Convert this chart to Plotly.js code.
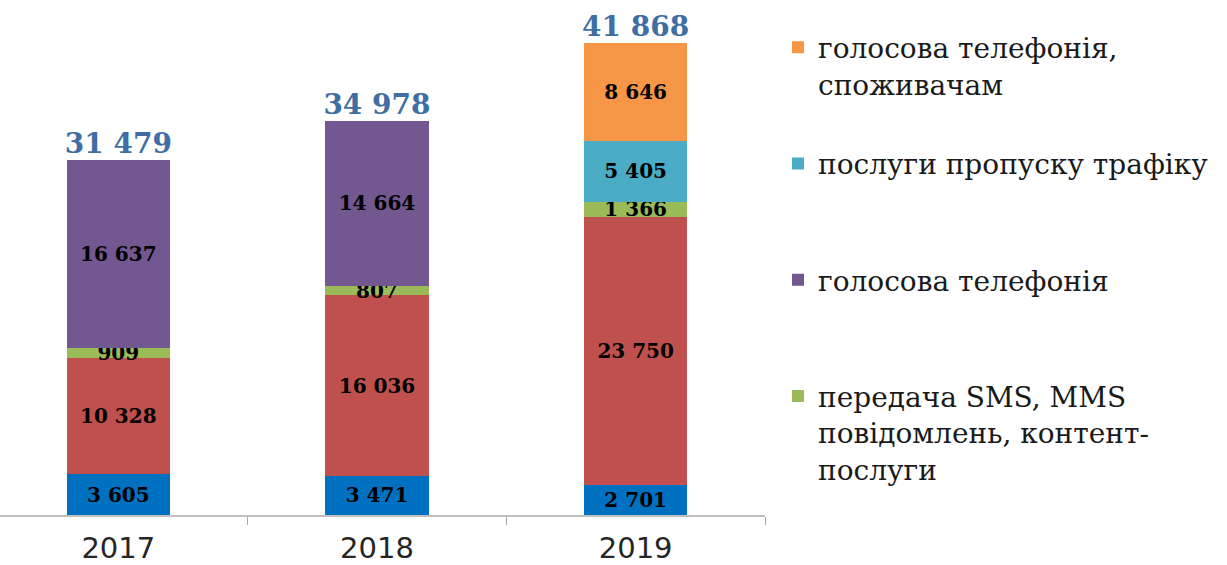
<!DOCTYPE html>
<html>
<head>
<meta charset="utf-8">
<script src="https://cdn.plot.ly/plotly-3.0.1.min.js"></script>
<style>
  html, body { margin: 0; padding: 0; background: #fff; }
  #chart { width: 1227px; height: 565px; }
</style>
</head>
<body>
<div id="chart"></div>
<script>
// ---- data ----
var years = ['2017', '2018', '2019'];
var blueValues   = [3605, 3471, 2701];
var redValues    = [10328, 16036, 23750];
var greenValues  = [909, 807, 1366];
var purpleValues = [16637, 14664, null];
var cyanValues   = [null, null, 5405];
var orangeValues = [null, null, 8646];
var totals       = [31479, 34978, 41868];

var nameGreen  = 'передача SMS, MMS<br>повідомлень, контент-<br>послуги';
var namePurple = 'голосова телефонія<br>\u00a0<br>\u00a0';
var nameCyan   = 'послуги пропуску трафіку<br>\u00a0<br>\u00a0';
var nameOrange = 'голосова телефонія,<br>споживачам<br>\u00a0';

function fmt(v) {
  if (v === null || v === undefined) return '';
  return String(v).replace(/\B(?=(\d{3})+(?!\d))/g, ' ');
}

var labelFont = { family: 'DejaVu Serif', size: 20, color: '#000000', weight: 'bold' };

function barTrace(vals, name, color, showLegend, group, rank) {
  return {
    type: 'bar',
    x: years,
    y: vals,
    name: name,
    legendgroup: group,
    legendrank: rank,
    marker: { color: color, line: { width: 0 } },
    text: vals.map(fmt),
    textposition: 'inside',
    insidetextanchor: 'middle',
    textangle: 0,
    constraintext: 'none',
    textfont: labelFont,
    width: 0.4,
    showlegend: showLegend,
    hoverinfo: 'skip'
  };
}

var traces = [
  barTrace(blueValues,   'послуги доступу до Інтернету', '#0070C0', false, 'b', 6),
  barTrace(redValues,    'мобільний Інтернет',           '#C0504D', false, 'r', 5),
  barTrace(greenValues,  nameGreen,  '#9BBB59', true, 'g', 4),
  barTrace(purpleValues, namePurple, '#725790', true, 'p', 3),
  barTrace(cyanValues,   nameCyan,   '#4BACC6', true, 'c', 2),
  barTrace(orangeValues, nameOrange, '#F79646', true, 'o', 1),
  {
    type: 'scatter',
    mode: 'text',
    x: years,
    y: totals,
    text: totals.map(fmt),
    textposition: 'top center',
    textfont: { family: 'DejaVu Serif', size: 28, color: '#3E6EA3', weight: 'bold' },
    cliponaxis: false,
    showlegend: false,
    hoverinfo: 'skip'
  }
];

var layout = {
  width: 1227,
  height: 565,
  margin: { l: 0, r: 462, t: 0, b: 50 },
  paper_bgcolor: '#ffffff',
  plot_bgcolor: '#ffffff',
  barmode: 'stack',
  showlegend: true,
  legend: {
    x: 1.017, xanchor: 'left',
    y: 0.956, yanchor: 'top',
    traceorder: 'grouped',
    tracegroupgap: 4,
    valign: 'top',
    font: { family: 'DejaVu Serif', size: 28, color: '#1a1a1a' },
    bgcolor: 'rgba(0,0,0,0)',
    borderwidth: 0
  },
  xaxis: {
    type: 'category',
    range: [-0.4574, 2.5],
    showline: true,
    linecolor: '#BFBFBF',
    linewidth: 2,
    ticks: 'outside',
    tickson: 'boundaries',
    ticklen: 8,
    tickcolor: '#A6A6A6',
    tickwidth: 1,
    ticklabelstandoff: 6,
    tickfont: { family: 'DejaVu Sans', size: 29, color: '#262626' },
    showgrid: false,
    zeroline: false,
    fixedrange: true
  },
  yaxis: {
    range: [0, 45700],
    visible: false,
    showgrid: false,
    zeroline: false,
    fixedrange: true
  }
};

Plotly.newPlot('chart', traces, layout, { displayModeBar: false, staticPlot: true });
</script>
</body>
</html>
